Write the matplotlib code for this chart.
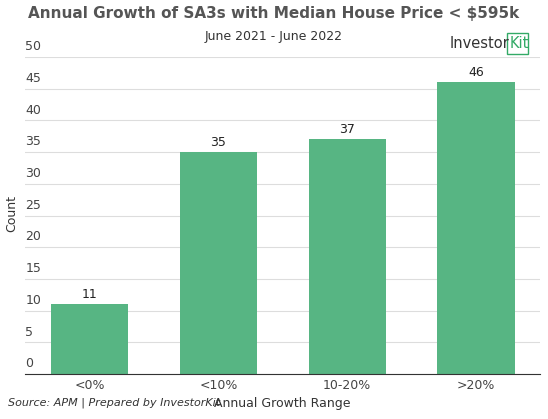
import matplotlib.pyplot as plt
from matplotlib.patches import Rectangle

categories = ['<0%', '<10%', '10-20%', '>20%']
counts = [11, 35, 37, 46]
yticks = list(range(0, 55, 5))

green = '#57b583'

fig = plt.figure(figsize=(5.48, 4.19), dpi=100)
ax = fig.add_axes([0.046, 0.107, 0.94, 0.757])

ax.bar(range(len(categories)), counts, width=0.6, color=green, zorder=2)
for i, v in enumerate(counts):
    ax.text(i, v + 0.5, str(v), ha='center', va='bottom', fontsize=9, color='#222222')

ax.set_xlim(-0.5, len(categories) - 0.5)
ax.set_ylim(0, 50)
ax.set_yticks(yticks)
ax.set_yticklabels([])
ax.tick_params(axis='y', length=0)
for t in yticks:
    ax.text(0.0, t + 0.6, str(t), transform=ax.get_yaxis_transform(),
            ha='left', va='bottom', fontsize=9, color='#444444')
ax.grid(axis='y', color='#dddddd', linewidth=0.8, zorder=0)
ax.set_xticks(range(len(categories)))
ax.set_xticklabels(categories, fontsize=9, color='#444444')
ax.tick_params(axis='x', length=0)
for s in ['top', 'right', 'left']:
    ax.spines[s].set_visible(False)
ax.spines['bottom'].set_color('#333333')

fig.text(0.022, 0.49, 'Count', rotation=90, ha='center', va='center',
         fontsize=9, color='#333333')
fig.text(0.515, 0.028, 'Annual Growth Range', ha='center', fontsize=9, color='#333333')

fig.text(0.5, 0.958, 'Annual Growth of SA3s with Median House Price < $595k',
         ha='center', fontsize=11, fontweight='bold', color='#555555')
fig.text(0.5, 0.905, 'June 2021 - June 2022', ha='center', fontsize=9, color='#333333')
fig.text(0.015, 0.032, 'Source: APM | Prepared by InvestorKit', fontsize=8,
         style='italic', color='#333333')

fig.text(0.82, 0.885, 'Investor', fontsize=10.5, color='#333333')
fig.text(0.93, 0.885, 'Kit', fontsize=10.5, color='#33aa66')
fig.patches.append(Rectangle((0.925, 0.872), 0.038, 0.05, transform=fig.transFigure,
                             fill=False, edgecolor='#33aa66', linewidth=1))

fig.savefig('out.png', dpi=100)
